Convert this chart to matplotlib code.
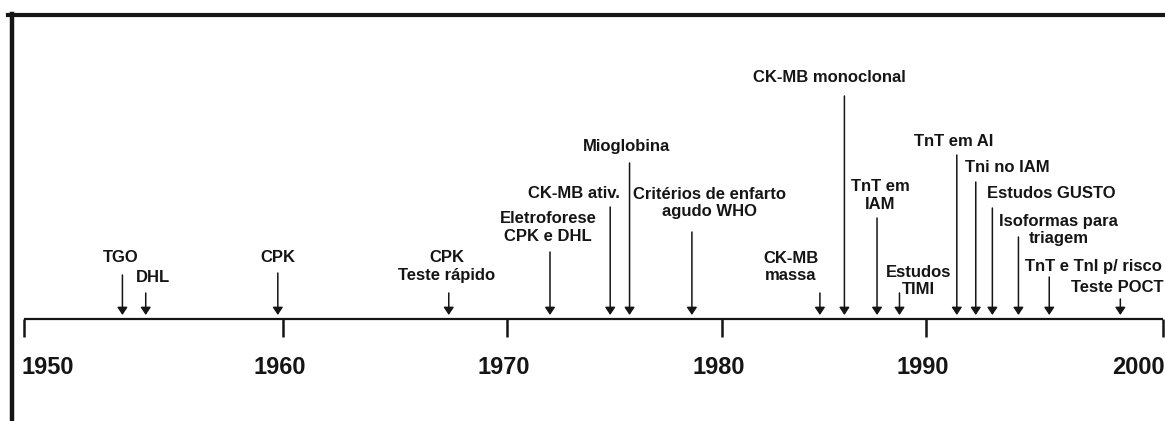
import numpy as np
import matplotlib
matplotlib.use("Agg")
import matplotlib.pyplot as plt
from matplotlib.lines import Line2D
from matplotlib import font_manager

plt.rcParams['font.family'] = ['Liberation Sans', 'DejaVu Sans']
plt.rcParams['font.weight'] = 'bold'

# marcos da linha do tempo (ano aproximado)
years = [1953.8, 1954.7, 1959.8, 1967.4, 1972.0, 1974.8, 1975.7, 1978.6,
         1984.8, 1986.0, 1987.6, 1988.7, 1991.3, 1992.1, 1992.8, 1993.9,
         1995.2, 1998.2]
labels = ["TGO", "DHL", "CPK", "CPK\nTeste rápido", "Eletroforese\nCPK e DHL",
          "CK-MB ativ.", "Mioglobina", "Critérios de enfarto\nagudo WHO",
          "CK-MB\nmassa", "CK-MB monoclonal", "TnT em\nIAM", "Estudos\nTIMI",
          "TnT em AI", "Tni no IAM", "Estudos GUSTO", "Isoformas para\ntriagem",
          "TnT e TnI p/ risco", "Teste POCT"]
decades = [1950, 1960, 1970, 1980, 1990, 2000]

# layout (pixels): hand drawn axis is not evenly spaced
W, H = 1165, 421
tick_px = [24, 283, 507, 722, 926, 1163]
arrow_top = [275, 293, 273, 293, 252, 207, 163, 232, 293, 96, 218, 293,
             155, 182, 208, 237, 277, 299]
label_dx = [-2, 7, 0, -2, -2, -36, -3, 18, -29, -15, 3, 19, -3, 32, 59, 40, 44, -3]
label_y = [257, 277, 257, 266.5, 227.5, 193, 147, 203, 267, 77, 195.5, 281,
           142, 168, 193, 230, 266, 287]
axis_y = 319

ext_years = [1900] + decades + [2050]
ext_px = ([tick_px[0] - 50 * (tick_px[1] - tick_px[0]) / 10] + tick_px +
          [tick_px[-1] + 50 * (tick_px[-1] - tick_px[-2]) / 10])


def fwd(x):
    return np.interp(x, ext_years, ext_px)


def inv(p):
    return np.interp(p, ext_px, ext_years)


# narrow face for the year labels if installed
names = {f.name for f in font_manager.fontManager.ttflist}
year_family = 'Liberation Sans Narrow' if 'Liberation Sans Narrow' in names else 'Liberation Sans'
year_size = 18.5 if year_family == 'Liberation Sans Narrow' else 17

fig = plt.figure(figsize=(W / 100, H / 100), dpi=100)
ax = fig.add_axes([0, 0, 1, 1])
ax.set_xscale('function', functions=(fwd, inv))
ax.set_xlim(inv(0), inv(W))
ax.set_ylim(H, 0)
ax.axis('off')

ink = '#151515'

# frame (top and left edges)
fig.add_artist(Line2D([8 / W, 1], [1 - 15 / H] * 2, color=ink, lw=3))
fig.add_artist(Line2D([11.5 / W] * 2, [0, 1 - 13.5 / H], color=ink, lw=3.2))

# timeline axis and ticks
ax.plot([decades[0], decades[-1]], [axis_y, axis_y], color=ink, lw=1.6,
        solid_capstyle='butt')
ax.vlines(decades, axis_y, 337, color=ink, lw=1.8)

for i, d in enumerate(decades):
    if i == 0:
        ha, dx = 'left', -2
    elif i == len(decades) - 1:
        ha, dx = 'right', 2
    else:
        ha, dx = 'center', -3
    ax.annotate(str(d), xy=(d, 368), xytext=(dx, 0), textcoords='offset pixels',
                ha=ha, va='center', fontsize=year_size, color=ink,
                family=[year_family, 'DejaVu Sans'])

for yr, lab, top, dx, ly in zip(years, labels, arrow_top, label_dx, label_y):
    ax.annotate('', xy=(yr, axis_y - 4), xytext=(yr, top),
                arrowprops=dict(arrowstyle='-|>,head_length=0.45,head_width=0.3',
                                color=ink, lw=1.1, shrinkA=0, shrinkB=0))
    ax.annotate(lab, xy=(yr, ly), xytext=(dx, 0), textcoords='offset pixels',
                ha='center', va='center', fontsize=12, color=ink,
                linespacing=1.2, multialignment='center')

fig.savefig('out.png', dpi=100, facecolor='white')
